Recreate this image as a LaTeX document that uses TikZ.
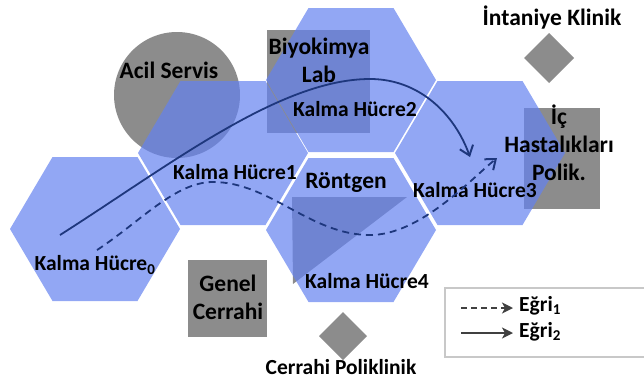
\documentclass[tikz,border=0pt]{standalone}
\usepackage{fontspec}
\setmainfont{Carlito}
\usetikzlibrary{arrows.meta}
\definecolor{shapegray}{RGB}{140,140,140}
\definecolor{hexblue}{RGB}{100,130,240}
\definecolor{curveblue}{RGB}{30,55,125}
\definecolor{legarrow}{RGB}{64,64,64}
\definecolor{legborder}{RGB}{200,200,200}
\begin{document}
\begin{tikzpicture}[x=1pt,y=-1pt,
  biglbl/.style={font=\bfseries\fontsize{23.5}{28}\selectfont, inner sep=0pt, align=center, text=black},
  smalllbl/.style={font=\bfseries\fontsize{21.5}{24}\selectfont, inner sep=0pt, align=center, text=black},
  graybox/.style={fill=shapegray},
  hexcell/.style={fill=hexblue, fill opacity=0.7},
  curvesolid/.style={draw=curveblue, line width=1.8pt, -{Straight Barb[length=9pt,width=14pt,line width=2pt]}},
  curvedash/.style={draw=curveblue, line width=1.8pt, dash pattern=on 7pt off 5pt, -{Straight Barb[length=9pt,width=14pt,line width=2pt]}},
  legsolid/.style={draw=legarrow, line width=1.6pt, -{Stealth[length=11pt,width=11pt,inset=3pt]}},
  legdash/.style={draw=legarrow, line width=1.6pt, dash pattern=on 6pt off 4pt, -{Stealth[length=11pt,width=11pt,inset=3pt]}}
]
\useasboundingbox (0,0) rectangle (644,383);

% gray shapes (under the hexagons)
\fill[graybox] (177,95) circle [radius=63pt];
\fill[graybox] (267,30) rectangle (370,133);
\fill[graybox] (292,197) -- (407,197) -- (293,284) -- cycle;
\fill[graybox] (524,108) rectangle (600,209);
\fill[graybox] (188,260) rectangle (267,337);
\fill[graybox] (549,33) -- (574,58) -- (549,83) -- (524,58) -- cycle;
\fill[graybox] (343,312) -- (367,336) -- (343,360) -- (319,336) -- cycle;

% hexagons
\foreach \cx/\cy in {95/229, 223/153, 351/80, 480/153, 351/230}{
  \begin{scope}[shift={(\cx,\cy)}]
    \fill[hexcell] (-85,0) -- (-42.5,-72) -- (42.5,-72) -- (85,0) -- (42.5,72) -- (-42.5,72) -- cycle;
  \end{scope}
}

% labels
\node[biglbl] (acil) at (169,70) {Acil Servis};
\node[biglbl] (biyo) at (319,60) {Biyokimya\\Lab};
\node[smalllbl] (k2) at (355,109) {Kalma Hücre2};
\node[smalllbl] (k1) at (235,172) {Kalma Hücre1};
\node[biglbl] (ront) at (346,183) {Röntgen};
\node[smalllbl] (k3) at (475,190) {Kalma Hücre3};
\node[smalllbl] (k4) at (367,281) {Kalma Hücre4};
\node[smalllbl] (k0) at (95,265) {Kalma Hücre\textsubscript{0}};
\node[biglbl] (genel) at (228,297) {Genel\\Cerrahi};
\node[smalllbl] (cpol) at (341,367) {Cerrahi Poliklinik};
\node[biglbl] (intan) at (552,18) {İntaniye Klinik};
\node[biglbl] (ic) at (559,143) {İç\\Hastalıkları\\Polik.};

% curves
\coordinate (s0) at (60,235);
\coordinate (speak) at (370,79);
\coordinate (s1) at (470,157);
\coordinate (d0) at (97,250);
\coordinate (dpeak) at (213,182);
\coordinate (dlow) at (370,235);
\coordinate (d1) at (497,158);
\draw[curvesolid] (s0) .. controls (170,165) and (280,79) .. (speak) .. controls (420,79) and (455,115) .. (s1);
\draw[curvedash] (d0) .. controls (140,222) and (175,182) .. (dpeak) .. controls (270,182) and (310,235) .. (dlow) .. controls (420,235) and (470,180) .. (d1);

% legend
\draw[legborder, line width=1.2pt] (646,288) -| (445,357) -- (646,357);
\coordinate (l1a) at (461,308);
\coordinate (l1b) at (513,308);
\coordinate (l2a) at (461,333);
\coordinate (l2b) at (513,333);
\draw[legdash] (l1a) -- (l1b);
\draw[legsolid] (l2a) -- (l2b);
\node[smalllbl, anchor=west] (e1) at (519,306) {Eğri\textsubscript{1}};
\node[smalllbl, anchor=west] (e2) at (519,332) {Eğri\textsubscript{2}};
\end{tikzpicture}
\end{document}
